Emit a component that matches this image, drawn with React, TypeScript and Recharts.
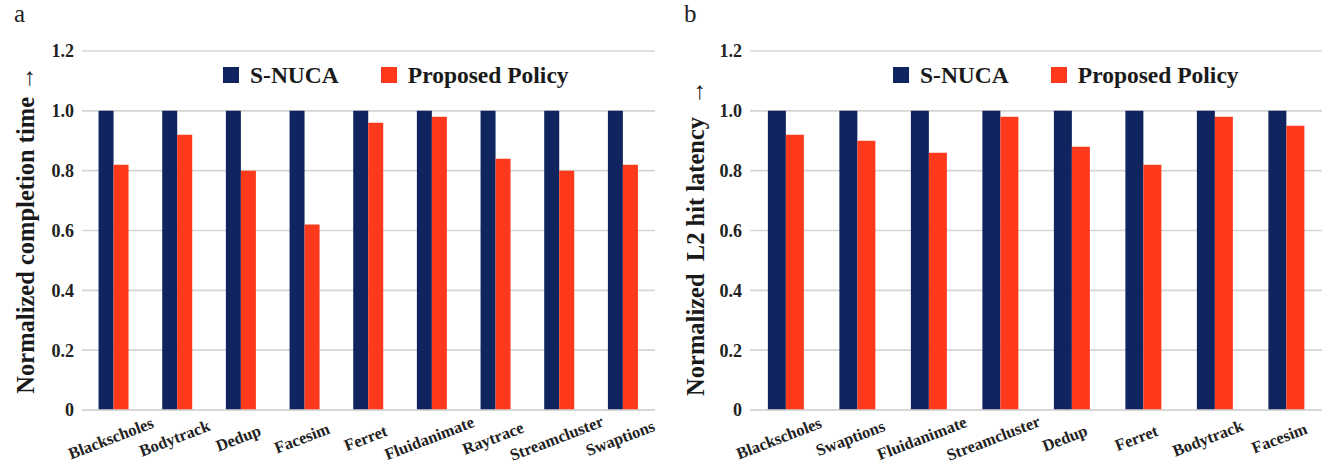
import { BarChart, Bar, XAxis, YAxis, CartesianGrid, Legend } from "recharts";

// Panel (a): normalized completion time per PARSEC benchmark
const completionBenchmarks = [
  "Blackscholes",
  "Bodytrack",
  "Dedup",
  "Facesim",
  "Ferret",
  "Fluidanimate",
  "Raytrace",
  "Streamcluster",
  "Swaptions",
];
const completionSNuca = [1.0, 1.0, 1.0, 1.0, 1.0, 1.0, 1.0, 1.0, 1.0];
const completionProposed = [0.82, 0.92, 0.8, 0.62, 0.96, 0.98, 0.84, 0.8, 0.82];

// Panel (b): normalized L2 hit latency
const latencyBenchmarks = [
  "Blackscholes",
  "Swaptions",
  "Fluidanimate",
  "Streamcluster",
  "Dedup",
  "Ferret",
  "Bodytrack",
  "Facesim",
];
const latencySNuca = [1.0, 1.0, 1.0, 1.0, 1.0, 1.0, 1.0, 1.0];
const latencyProposed = [0.92, 0.9, 0.86, 0.98, 0.88, 0.82, 0.98, 0.95];

const yTicks = [0, 0.2, 0.4, 0.6, 0.8, 1.0, 1.2];
const seriesNames = ["S-NUCA", "Proposed Policy"];

const NAVY = "#10255f";
const RED = "#ff391c";
const GRID = "#d5d5d5";
const SERIF = '"Liberation Serif", "Times New Roman", serif';

type PanelProps = {
  letter: string;
  benchmarks: string[];
  sNuca: number[];
  proposed: number[];
  yLabel: string;
  left: number;
  width: number;
  axisWidth: number;
  marginRight: number;
  categoryGap: string;
  tickShift: number;
  labelY: number;
};

const SlantTick = ({ x, y, payload, shift }: any) => {
  const ax = x + shift;
  const ay = y + 28;
  return (
    <text
      x={ax}
      y={ay}
      dy="0.35em"
      textAnchor="middle"
      transform={`rotate(-21, ${ax}, ${ay})`}
      fontFamily={SERIF}
      fontWeight="bold"
      fontSize={16.5}
      fill="#222"
    >
      {payload.value}
    </text>
  );
};

// keep legend in series order (S-NUCA first)
const renderLegend = (props: any) => {
  const items = [...(props.payload || [])].sort(
    (a: any, b: any) => seriesNames.indexOf(a.value) - seriesNames.indexOf(b.value)
  );
  return (
    <div style={{ display: "flex", alignItems: "center", height: 24 }}>
      {items.map((item: any, i: number) => (
        <div
          key={i}
          style={{ display: "flex", alignItems: "center", marginRight: 42 }}
        >
          <span
            style={{
              display: "inline-block",
              width: 16,
              height: 16,
              background: item.color,
              marginRight: 11,
            }}
          />
          <span
            style={{
              fontFamily: SERIF,
              fontWeight: "bold",
              fontSize: 23.5,
              color: "#1a1a1a",
              whiteSpace: "nowrap",
              lineHeight: "24px",
            }}
          >
            {item.value}
          </span>
        </div>
      ))}
    </div>
  );
};

function Panel(p: PanelProps) {
  const data = p.benchmarks.map((name, i) => ({
    name,
    sNuca: p.sNuca[i],
    proposed: p.proposed[i],
  }));

  return (
    <div style={{ position: "absolute", left: p.left, top: 0, width: p.width, height: 470 }}>
      <div
        style={{
          position: "absolute",
          left: 14,
          top: 0,
          fontFamily: SERIF,
          fontSize: 25,
          color: "#222",
        }}
      >
        {p.letter}
      </div>
      <BarChart
        width={p.width}
        height={470}
        data={data}
        margin={{ top: 51, right: p.marginRight, left: 0, bottom: 0 }}
        barCategoryGap={p.categoryGap}
        barGap={0}
      >
        <CartesianGrid vertical={false} stroke={GRID} strokeWidth={1.6} />
        <XAxis
          dataKey="name"
          height={60}
          interval={0}
          tickLine={false}
          tickSize={0}
          tickMargin={0}
          axisLine={{ stroke: GRID, strokeWidth: 1.6 }}
          tick={<SlantTick shift={p.tickShift} />}
        />
        <YAxis
          width={p.axisWidth}
          domain={[0, 1.2]}
          ticks={yTicks}
          interval={0}
          axisLine={false}
          tickLine={false}
          tickSize={0}
          tickMargin={8}
          tickFormatter={(v: number) => (v === 0 ? "0" : v.toFixed(1))}
          tick={{ fontFamily: SERIF, fontWeight: "bold", fontSize: 18, fill: "#222" }}
          label={{
            content: () => (
              <text
                x={25}
                y={p.labelY}
                transform={`rotate(-90, 25, ${p.labelY})`}
                textAnchor="middle"
                dominantBaseline="central"
                fontFamily={SERIF}
                fontWeight="bold"
                fontSize={24.5}
                fill="#1a1a1a"
                xmlSpace="preserve"
                style={{ whiteSpace: "pre" }}
              >
                {p.yLabel}
              </text>
            ),
          }}
        />
        <Legend
          verticalAlign="middle"
          align="center"
          content={renderLegend}
          wrapperStyle={{ top: 63, left: 223, width: 420, bottom: "auto", right: "auto" }}
        />
        <Bar dataKey="sNuca" name="S-NUCA" fill={NAVY} isAnimationActive={false} />
        <Bar dataKey="proposed" name="Proposed Policy" fill={RED} isAnimationActive={false} />
      </BarChart>
    </div>
  );
}

export default function App() {
  return (
    <div
      style={{
        position: "absolute",
        left: 0,
        top: 0,
        width: 1334,
        height: 470,
        background: "#fff",
      }}
    >
      <Panel
        letter="a"
        benchmarks={completionBenchmarks}
        sNuca={completionSNuca}
        proposed={completionProposed}
        yLabel="Normalized completion time →"
        left={0}
        width={670}
        axisWidth={82}
        marginRight={15}
        categoryGap="26%"
        tickShift={-3}
        labelY={230}
      />
      <Panel
        letter="b"
        benchmarks={latencyBenchmarks}
        sNuca={latencySNuca}
        proposed={latencyProposed}
        yLabel="Normalized  L2 hit latency  →"
        left={670}
        width={664}
        axisWidth={80}
        marginRight={12}
        categoryGap="25%"
        tickShift={-7}
        labelY={238}
      />
    </div>
  );
}
